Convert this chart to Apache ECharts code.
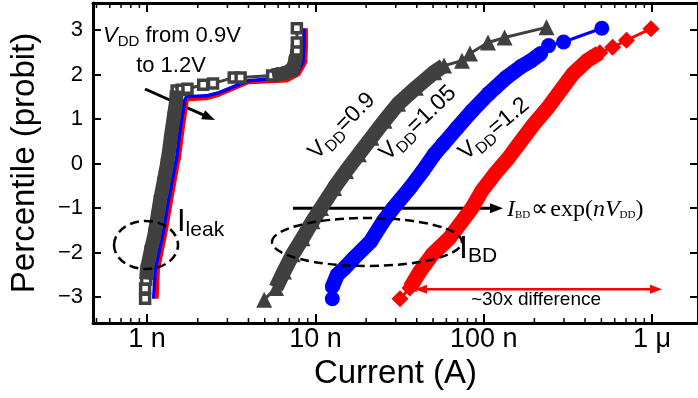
<!DOCTYPE html>
<html>
<head>
<meta charset="utf-8">
<script src="https://cdn.jsdelivr.net/npm/echarts@6/dist/echarts.min.js"></script>
<style>
  html, body { margin: 0; padding: 0; background: #fff; }
  #chart { width: 698px; height: 398px; }
</style>
</head>
<body>
<div id="chart"></div>
<script>
// current in nA, percentile in probit units
const xRange = [0.477, 1875]
const yRange = [-3.585, 3.607]
const xTickLabels = { 1: '1 n', 10: '10 n', 100: '100 n', 1000: '1 \u03bc' }
const xMinorTicks = [0.5, 0.6, 0.7, 0.8, 0.9, 2, 3, 4, 5, 6, 7, 8, 9, 20, 30, 40, 50, 60, 70, 80, 90,
  200, 300, 400, 500, 600, 700, 800, 900]

// leakage current, V_DD = 0.9 / 1.05 / 1.2
const leakGray = [[0.973, -3.04], [0.973, -2.81], [0.987, -2.61], [0.997, -2.38], [1.048, -1.98],
  [1.106, -1.59], [1.149, -1.21], [1.191, -0.85], [1.249, -0.44], [1.313, -0.01], [1.354, 0.33],
  [1.391, 0.67], [1.438, 1.03], [1.488, 1.41], [1.498, 1.64], [1.602, 1.66], [1.737, 1.68],
  [2.154, 1.77], [2.465, 1.80], [3.27, 1.93], [3.594, 1.93], [5.53, 1.98], [6.33, 2.02],
  [7.24, 2.09], [7.54, 2.27], [7.69, 2.43], [7.76, 2.54], [7.76, 2.72], [7.76, 3.04]]
const leakGrayBand = [[0.987, -2.61], [0.997, -2.38], [1.048, -1.98], [1.106, -1.59], [1.149, -1.21],
  [1.191, -0.85], [1.249, -0.44], [1.313, -0.01], [1.354, 0.33], [1.391, 0.67], [1.438, 1.03],
  [1.488, 1.41], [1.498, 1.64], '-', [5.53, 1.98], [6.33, 2.02], [7.24, 2.09], [7.54, 2.27], [7.69, 2.43]]
const leakBlue = [[1.094, -3.04], [1.118, -2.38], [1.24, -1.59], [1.336, -0.85], [1.472, -0.01],
  [1.498, 0.12], [1.559, 0.67], [1.668, 1.41], [1.713, 1.50], [2.244, 1.52], [2.673, 1.59],
  [4.003, 1.86], [6.588, 1.93], [7.743, 2.04], [8.427, 2.27], [8.543, 2.65], [8.543, 3.04]]
const leakRed = [[1.144, -3.04], [1.164, -2.38], [1.286, -1.59], [1.391, -0.85], [1.524, -0.01],
  [1.553, 0.12], [1.618, 0.67], [1.725, 1.41], [1.784, 1.44], [2.244, 1.46], [2.673, 1.54],
  [4.003, 1.82], [6.767, 1.86], [7.95, 2.00], [8.74, 2.27], [8.824, 2.65], [8.824, 3.04]]

// breakdown current
const bdGray = [[4.96, -3.06], [5.83, -2.80], [6.50, -2.43], [7.33, -2.04], [8.39, -1.68], [9.60, -1.30],
  [10.8, -1.00], [12.9, -0.55], [15.2, -0.17], [18.1, 0.21], [21.5, 0.58], [25.7, 0.96], [31.0, 1.34],
  [39.5, 1.70], [50.8, 2.05], [58.1, 2.20], [74.3, 2.31], [82.8, 2.47], [106, 2.72], [133, 2.83], [236, 3.06]]
const bdGrayBand = [[5.83, -2.80], [6.50, -2.43], [7.33, -2.04], [8.39, -1.68], [9.60, -1.30],
  [10.8, -1.00], [12.9, -0.55], [15.2, -0.17], [18.1, 0.21], [21.5, 0.58], [25.7, 0.96], [31.0, 1.34],
  [39.5, 1.70], [50.8, 2.05], [58.1, 2.20]]
const bdBlue = [[12.6, -3.04], [12.6, -2.77], [13.5, -2.50], [14.8, -2.36], [16.9, -2.13], [21.3, -1.75],
  [25.3, -1.30], [29.0, -1.00], [36.4, -0.55], [43.4, -0.17], [51.0, 0.21], [57.6, 0.44], [69.5, 0.80],
  [85.1, 1.18], [107, 1.57], [136, 1.93], [167, 2.18], [191, 2.31], [218, 2.47], [243, 2.65],
  [298, 2.73], [503, 3.04]]
const bdBlueBand = [[12.6, -2.77], [13.5, -2.50], [14.8, -2.36], [16.9, -2.13], [21.3, -1.75],
  [25.3, -1.30], [29.0, -1.00], [36.4, -0.55], [43.4, -0.17], [51.0, 0.21], [57.6, 0.44], [69.5, 0.80],
  [85.1, 1.18], [107, 1.57], [136, 1.93], [167, 2.18], [191, 2.31], [218, 2.47]]
const bdRed = [[31.8, -3.04], [36.4, -2.80], [41.7, -2.43], [49.6, -2.04], [62.4, -1.68], [74.3, -1.30],
  [85.1, -1.00], [97.3, -0.62], [116, -0.24], [140, 0.12], [167, 0.51], [199, 0.89], [240, 1.25],
  [286, 1.64], [340, 2.02], [411, 2.31], [490, 2.49], [583, 2.61], [705, 2.77], [986, 3.03]]
const bdRedBand = [[36.4, -2.80], [41.7, -2.43], [49.6, -2.04], [62.4, -1.68], [74.3, -1.30],
  [85.1, -1.00], [97.3, -0.62], [116, -0.24], [140, 0.12], [167, 0.51], [199, 0.89], [240, 1.25],
  [286, 1.64], [340, 2.02], [411, 2.31], [490, 2.49]]

const SANS = 'Liberation Sans'
const SERIF = 'Liberation Serif'
const GRAY = '#404040'
const BLUE = '#0000ff'
const RED = '#ff0000'

const ctx = document.createElement('canvas').getContext('2d')
const measure = (p) => {
  ctx.font = `${p.italic ? 'italic ' : ''}${p.size}px "${p.family || SANS}"`
  return ctx.measureText(p.t).width
}

// text made of pieces (for subscripts), placed at x,y, optionally rotated
const textRun = (x, y, rot, parts, color, align) => {
  const widths = parts.map(measure)
  const total = widths.reduce((a, b) => a + b, 0) + parts.reduce((a, p) => a + (p.dx || 0), 0)
  let cx = align === 'left' ? 0 : -total / 2
  const children = parts.map((p, i) => {
    cx += p.dx || 0
    const el = {
      type: 'text',
      x: cx,
      y: p.dy || 0,
      style: {
        text: p.t,
        fill: color,
        fontSize: p.size,
        fontFamily: p.family || SANS,
        fontStyle: p.italic ? 'italic' : 'normal',
        align: 'left',
        verticalAlign: 'middle'
      }
    }
    cx += widths[i]
    return el
  })
  return { type: 'group', x, y, rotation: (rot || 0) * Math.PI / 180, children, z: 20 }
}

const arrow = (x1, y1, x2, y2, color, lw, hl, hw, both) => {
  const len = Math.hypot(x2 - x1, y2 - y1)
  const ux = (x2 - x1) / len
  const uy = (y2 - y1) / len
  const head = (tx, ty, dx, dy) => ({
    type: 'polygon',
    shape: {
      points: [[tx, ty],
        [tx - hl * dx - hw / 2 * dy, ty - hl * dy + hw / 2 * dx],
        [tx - hl * dx + hw / 2 * dy, ty - hl * dy - hw / 2 * dx]]
    },
    style: { fill: color }
  })
  const sx = both ? x1 + ux * hl * 0.8 : x1
  const sy = both ? y1 + uy * hl * 0.8 : y1
  const children = [
    { type: 'line', shape: { x1: sx, y1: sy, x2: x2 - ux * hl * 0.8, y2: y2 - uy * hl * 0.8 }, style: { stroke: color, lineWidth: lw } },
    head(x2, y2, ux, uy)
  ]
  if (both) children.push(head(x1, y1, -ux, -uy))
  return { type: 'group', children, z: 20 }
}

const ellipse = (cx, cy, rx, ry) => ({
  type: 'ellipse',
  shape: { cx, cy, rx, ry },
  style: { fill: null, stroke: '#000', lineWidth: 2.5, lineDash: [9, 5] },
  z: 20
})

const line = (data, color, width, z, extra) => Object.assign({
  type: 'line',
  data,
  z,
  symbol: 'none',
  showAllSymbol: true,
  silent: true,
  animation: false,
  connectNulls: false,
  lineStyle: { color, width, join: 'round' },
  itemStyle: { color }
}, extra || {})

const axisLineStyle = { color: '#000', width: 3 }
const xAxisBase = {
  type: 'log',
  logBase: 10,
  min: xRange[0],
  max: xRange[1],
  splitLine: { show: false },
  axisLine: { onZero: false, lineStyle: axisLineStyle },
  axisTick: { inside: true, length: 9, lineStyle: { color: '#000', width: 2 } }
}
const yAxisBase = {
  type: 'value',
  min: yRange[0],
  max: yRange[1],
  splitNumber: 7,
  splitLine: { show: false },
  axisLine: { onZero: false, lineStyle: axisLineStyle },
  axisTick: { inside: true, length: 8, lineStyle: { color: '#000', width: 2 } }
}

const chart = echarts.init(document.getElementById('chart'), null, { renderer: 'canvas' })

chart.setOption({
  backgroundColor: '#fff',
  animation: false,
  grid: { left: 85, right: -2, top: 3, bottom: 75 },
  xAxis: [
    Object.assign({}, xAxisBase, {
      position: 'bottom',
      name: 'Current (A)',
      nameLocation: 'middle',
      nameGap: 31,
      nameTextStyle: { fontSize: 33, color: '#000', fontFamily: SANS },
      axisLabel: {
        margin: 3,
        fontSize: 27,
        color: '#000',
        fontFamily: SANS,
        showMinLabel: false,
        showMaxLabel: false,
        formatter: (v) => xTickLabels[Math.round(v)] || ''
      }
    }),
    Object.assign({}, xAxisBase, { position: 'top', axisLabel: { show: false } })
  ],
  yAxis: [
    Object.assign({}, yAxisBase, {
      position: 'left',
      name: 'Percentile (probit)',
      nameLocation: 'middle',
      nameGap: 52,
      nameTextStyle: { fontSize: 33, color: '#000', fontFamily: SANS },
      axisLabel: {
        margin: 10,
        fontSize: 22,
        color: '#000',
        fontFamily: SANS,
        showMinLabel: false,
        showMaxLabel: false,
        formatter: (v) => (v < 0 ? '\u2212' + Math.abs(v) : String(v))
      }
    }),
    Object.assign({}, yAxisBase, { position: 'right', axisLabel: { show: false } })
  ],
  series: [
    line(leakRed, RED, 3.5, 2),
    line(leakBlue, BLUE, 3.5, 3),
    line(leakGray, GRAY, 3, 4, {
      symbol: 'rect',
      symbolSize: 9,
      itemStyle: { color: '#fff', borderColor: GRAY, borderWidth: 3.5 }
    }),
    line(leakGrayBand, GRAY, 14, 5),
    line(bdGrayBand, GRAY, 15, 2),
    line(bdGray, GRAY, 3, 3, { symbol: 'triangle', symbolSize: 16 }),
    line(bdBlueBand, BLUE, 15, 2),
    line(bdBlue, BLUE, 3, 3, { symbol: 'circle', symbolSize: 15 }),
    line(bdRedBand, RED, 15, 2),
    line(bdRed, RED, 3, 3, { symbol: 'diamond', symbolSize: 17 }),
    {
      // log minor ticks on bottom and top frame
      type: 'custom',
      silent: true,
      animation: false,
      data: xMinorTicks.map((v) => [v, 0]),
      encode: { x: 0, y: 1 },
      z: 6,
      renderItem: (params, api) => {
        const x = api.coord([api.value(0), 0])[0]
        const cs = params.coordSys
        const st = { stroke: '#000', lineWidth: 1.5 }
        return {
          type: 'group',
          children: [
            { type: 'line', shape: { x1: x, y1: cs.y + cs.height, x2: x, y2: cs.y + cs.height - 5 }, style: st },
            { type: 'line', shape: { x1: x, y1: cs.y, x2: x, y2: cs.y + 5 }, style: st }
          ]
        }
      }
    }
  ],
  graphic: [
    textRun(103, 36, 0, [
      { t: 'V', size: 22, italic: true },
      { t: 'DD', size: 15, dy: 6 },
      { t: ' from 0.9V', size: 22 }
    ], '#000', 'left'),
    textRun(171, 66, 0, [{ t: 'to 1.2V', size: 22 }], '#000'),
    arrow(145, 89, 215, 120, '#000', 3, 13, 10, false),
    ellipse(146, 245, 32, 24),
    textRun(177, 222, 0, [{ t: 'I', size: 31 }, { t: 'leak', size: 21, dy: 8 }], '#000', 'left'),
    ellipse(367, 242, 95, 24),
    textRun(459, 249, 0, [{ t: 'I', size: 32 }, { t: 'BD', size: 21, dy: 7 }], '#000', 'left'),
    arrow(293, 208.3, 503, 208.3, '#000', 3, 13, 10, false),
    textRun(507, 210, 0, [
      { t: 'I', size: 24, italic: true, family: SERIF },
      { t: 'BD', size: 11, dy: 5, family: SERIF },
      { t: '\u221d', size: 24, family: SERIF, dx: 1 },
      { t: 'exp(', size: 24, family: SERIF, dx: 2 },
      { t: 'n', size: 24, italic: true, family: SERIF },
      { t: 'V', size: 24, italic: true, family: SERIF },
      { t: 'DD', size: 11, dy: 5, family: SERIF },
      { t: ')', size: 24, family: SERIF }
    ], '#000', 'left'),
    arrow(415, 289.3, 662, 289.3, RED, 2.5, 12, 9, true),
    textRun(536, 300, 0, [{ t: '~30x difference', size: 19 }], '#000'),
    textRun(342, 126, 45, [{ t: 'V', size: 23 }, { t: 'DD', size: 16, dy: 7 }, { t: '=0.9', size: 23 }], '#000'),
    textRun(418, 123, 44, [{ t: 'V', size: 23 }, { t: 'DD', size: 16, dy: 7 }, { t: '=1.05', size: 23 }], '#000'),
    textRun(494, 129, 40, [{ t: 'V', size: 23 }, { t: 'DD', size: 16, dy: 7 }, { t: '=1.2', size: 23 }], '#000')
  ]
})
</script>
</body>
</html>
